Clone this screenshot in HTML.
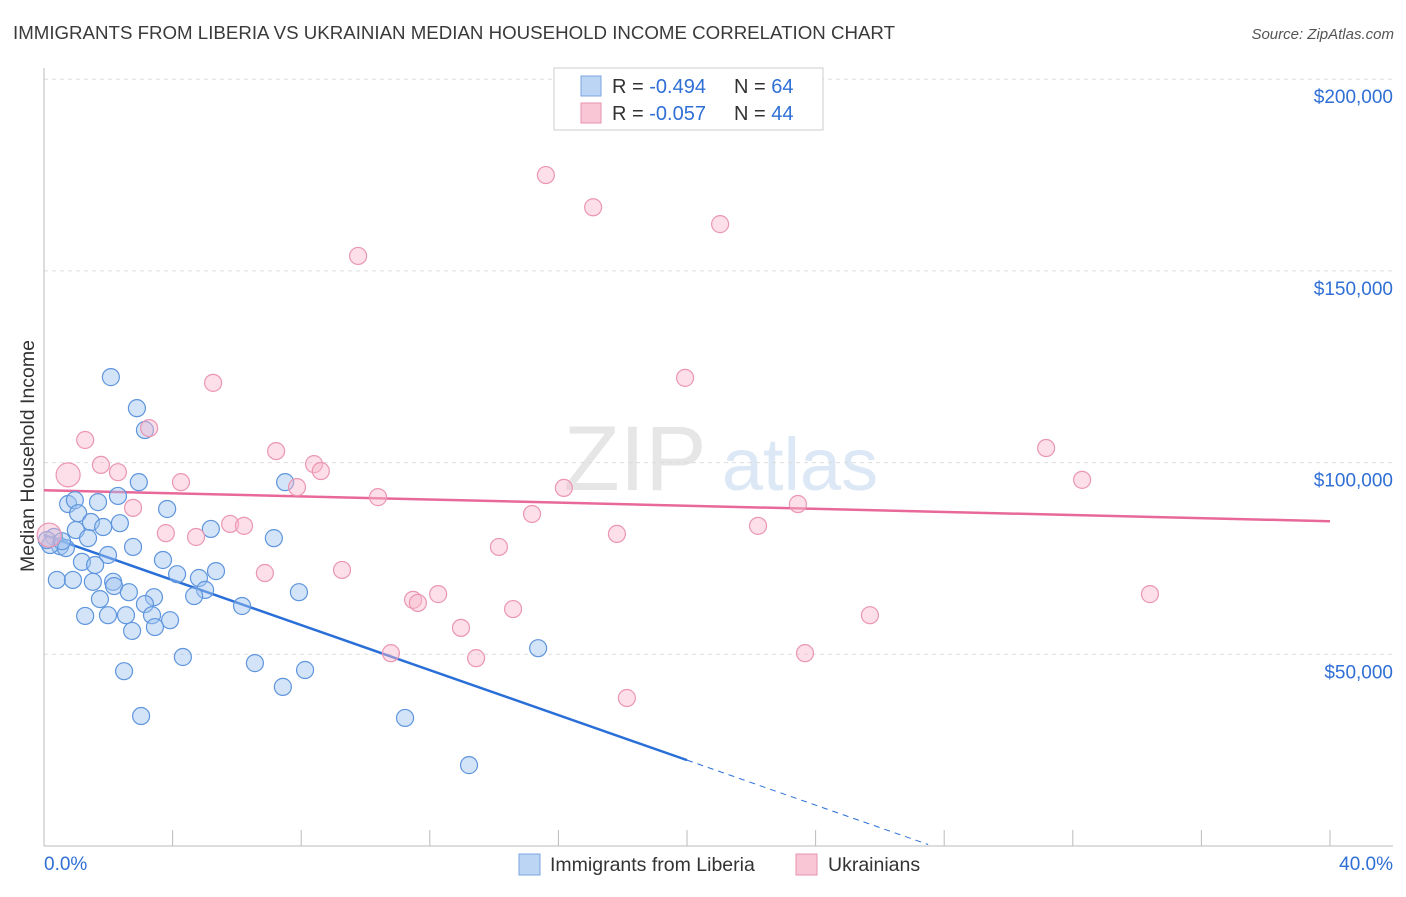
<!DOCTYPE html>
<html><head><meta charset="utf-8"><style>
body{margin:0;background:#fff;font-family:"Liberation Sans",sans-serif}
svg text{font-family:"Liberation Sans",sans-serif}
</style></head><body>
<svg id="c" width="1406" height="892">
<text x="13" y="39" font-size="18" textLength="882" lengthAdjust="spacingAndGlyphs" fill="#3a3a3a">IMMIGRANTS FROM LIBERIA VS UKRAINIAN MEDIAN HOUSEHOLD INCOME CORRELATION CHART</text>
<text x="1394" y="39" font-size="15" fill="#555" font-style="italic" text-anchor="end">Source: ZipAtlas.com</text>
<g><text x="635" y="490" font-size="92" fill="#e6e6e6" font-family="Liberation Serif" text-anchor="middle">ZIP</text><text x="800" y="490" font-size="74" fill="#dce8f5" text-anchor="middle">atlas</text></g>
<g id="grid"></g><g id="axes"></g><g id="trend"></g><g id="pts"></g>
<text transform="translate(34,456) rotate(-90)" font-size="19.5" fill="#333" text-anchor="middle">Median Household Income</text>
<g>
<rect x="554" y="68" width="269" height="62" fill="#fff" stroke="#ccc"/>
<rect x="581" y="76" width="20" height="20" fill="#bcd5f5" stroke="#7aa5e0"/>
<rect x="581" y="103" width="20" height="20" fill="#f9c6d6" stroke="#e893ad"/>
<text x="612" y="93" font-size="20" fill="#333">R = <tspan fill="#2f6fd6">-0.494</tspan></text>
<text x="734" y="93" font-size="20" fill="#333">N = <tspan fill="#2f6fd6">64</tspan></text>
<text x="612" y="120" font-size="20" fill="#333">R = <tspan fill="#2f6fd6">-0.057</tspan></text>
<text x="734" y="120" font-size="20" fill="#333">N = <tspan fill="#2f6fd6">44</tspan></text>
</g>
<g>
<rect x="519" y="854" width="21" height="21" fill="#bcd5f5" stroke="#7aa5e0"/>
<text x="550" y="871" font-size="19.5" fill="#333">Immigrants from Liberia</text>
<rect x="796" y="854" width="21" height="21" fill="#f9c6d6" stroke="#e893ad"/>
<text x="828" y="871" font-size="19.5" fill="#333">Ukrainians</text>
</g>
</svg>
<script>
const yTicks=[50000,100000,150000,200000];
const yTickLabels=["$50,000","$100,000","$150,000","$200,000"];
const xTickLabels=["0.0%","40.0%"];
const blueX=[2.08,2.89,3.14,2.95,7.50,0.75,0.96,1.68,2.30,3.83,1.06,1.46,2.36,1.84,5.19,0.99,0.31,1.37,7.15,0.50,0.19,0.68,2.77,1.99,3.70,1.18,1.59,5.35,4.14,4.82,0.40,0.90,1.52,2.15,2.18,2.64,5.01,7.93,1.74,3.42,4.67,3.14,6.16,1.28,1.99,2.55,3.36,3.92,2.74,3.45,4.32,6.56,15.37,2.49,8.12,7.43,3.02,11.23,13.22,0.09,0.56];
const blueY=[122.3,114.2,108.5,94.9,94.9,89.2,90.2,89.7,91.3,87.9,86.8,84.5,84.2,83.2,82.7,82.4,80.6,80.3,80.3,78.2,78.5,77.7,78.0,75.9,74.6,74.1,73.3,71.7,70.9,69.9,69.4,69.4,68.9,68.9,67.8,66.2,66.8,66.2,64.4,64.9,65.2,63.1,62.6,60.0,60.2,60.2,60.2,58.9,56.1,57.1,49.3,47.7,51.6,45.6,45.9,41.5,33.9,33.4,21.1,79.8,79.5];
const pinkX=[15.61,17.08,21.03,9.77,5.26,19.94,3.27,1.28,7.22,31.17,1.77,2.30,0.75,8.40,8.61,4.26,7.87,32.29,16.17,10.39,23.45,2.77,15.18,5.79,6.22,22.21,3.79,4.73,17.82,0.16,14.15,6.87,9.27,12.26,34.40,11.48,11.63,14.59,25.69,12.97,10.79,23.67,13.44,18.13];
const pinkY=[175.0,166.6,162.2,153.9,120.8,122.1,109.0,105.9,103.0,103.8,99.4,97.5,96.8,99.6,97.8,94.9,93.6,95.5,93.4,91.0,89.2,88.2,86.6,84.0,83.5,83.5,81.6,80.6,81.4,81.1,78.0,71.2,72.0,65.7,65.7,64.2,63.4,61.8,60.2,56.9,50.3,50.3,49.0,38.6];
const pinkBig=[12,29];
const blueTrend=[81.1,-2.935];
const pinkTrend=[92.8,-0.2025];
const X=p=>44+p*32.15, Y=v=>846-v/50000*191.7, Yk=k=>Y(k*1000);
const NS="http://www.w3.org/2000/svg";
function mk(parent,tag,attrs){const e=document.createElementNS(NS,tag);for(const k in attrs)e.setAttribute(k,attrs[k]);document.getElementById(parent).appendChild(e);return e;}
yTicks.forEach((t,i)=>{
 let l=mk('grid','line',{x1:44,x2:1393,y1:Y(t),y2:Y(t),stroke:'#ddd','stroke-dasharray':'4,4'});
 
 
 let tx=mk('axes','text',{x:1393,y:Y(t)+24,'font-size':19,fill:'#2f6fd6','text-anchor':'end'});tx.textContent=yTickLabels[i];
 
 
});
let ax=mk('axes','line',{x1:44,x2:1393,y1:846,y2:846,stroke:'#bbb'});


let ay=mk('axes','line',{x1:44,x2:44,y1:68,y2:846,stroke:'#bbb'});


for(let i=1;i<=10;i++){let t=mk('axes','line',{x1:X(i*4),x2:X(i*4),y1:830,y2:846,stroke:'#bbb'});
 
 }
[[0,'start',44],[40,'end',1393]].forEach((d,i)=>{let t=mk('axes','text',{x:d[2],y:870,'font-size':19,fill:'#2f6fd6','text-anchor':d[1]});t.textContent=xTickLabels[i];
 
 });
blueX.forEach((x,i)=>{let c=mk('pts','circle',{cx:X(x),cy:Yk(blueY[i]),r:8.5,fill:'rgba(160,196,240,0.45)',stroke:'#5e95dd','stroke-width':1.2});
 
 });
pinkX.forEach((x,i)=>{let c=mk('pts','circle',{cx:X(x),cy:Yk(pinkY[i]),r:pinkBig.includes(i)?12:8.5,fill:'rgba(248,185,205,0.45)',stroke:'#eb96b2','stroke-width':1.2});
 
 });
let bt=mk('trend','line',{x1:X(0),y1:Yk(blueTrend[0]),x2:X(20),y2:Yk(blueTrend[0]+blueTrend[1]*20),stroke:'#2a6fd8','stroke-width':2.5});


let bd=mk('trend','line',{x1:X(20),y1:Yk(blueTrend[0]+blueTrend[1]*20),x2:X(27.5),y2:Yk(blueTrend[0]+blueTrend[1]*27.5),stroke:'#2a6fd8','stroke-width':1,'stroke-dasharray':'6,5'});


let pt=mk('trend','line',{x1:X(0),y1:Yk(pinkTrend[0]),x2:X(40),y2:Yk(pinkTrend[0]+pinkTrend[1]*40),stroke:'#e8689a','stroke-width':2.5});


</script>
</body></html>
